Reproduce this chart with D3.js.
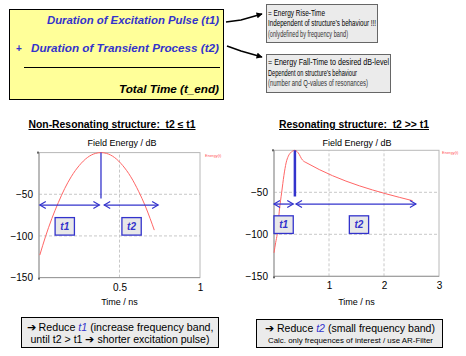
<!DOCTYPE html>
<html><head><meta charset="utf-8">
<script src="https://cdn.jsdelivr.net/npm/d3@7"></script>
<style>body{margin:0;background:#fff}svg{display:block}text{font-family:"Liberation Sans",Arial,sans-serif}</style>
</head><body>
<script>
// ---- data ----
const leftTime = [0.005,0.04,0.08,0.12,0.16,0.2,0.25,0.3,0.35,0.385,0.42,0.47,0.52,0.57,0.62,0.66,0.69,0.716];
const leftEnergy = [-123,-101,-79,-60,-43,-29,-15.5,-6,-1,0,-1,-6,-15.5,-29,-47,-64,-79,-93];
const rightTime = [0,0.03,0.06,0.1,0.14,0.18,0.22,0.26,0.3,0.34,0.38,0.42,0.46,0.5,0.54,0.58,2.52];
const rightEnergy = [-122,-110,-99,-70,-50,-30,-15,-7,-3,-0.8,0,-1.5,-5,-10,-13,-14.5,-60];
const yTicks = [-50,-100,-150];
const leftXTicks = [0.5,1];
const rightXTicks = [1,2,3];
const leftMarks = {peak:0.385, lineEnd:-55, arrowY:-63, a1:[0.005,0.375], a2:[0.405,0.74], b1:[0.1,0.22], b2:[0.515,0.635]};
const rightMarks = {peak:0.38, lineEnd:-55, arrowY:-64, a1:[0,0.35], a2:[0.4,2.58], b1:[0,0.35], b2:[1.37,1.72]};

const W=466,H=356;
const svg=d3.select("body").append("svg").attr("width",W).attr("height",H);
const blue="#3333cc";

function txt(x,y,s,opt={}){
  const t=svg.append("text").attr("x",x).attr("y",y).text(s)
   .attr("font-size",opt.size||10).attr("fill",opt.fill||"#000")
   .attr("text-anchor",opt.anchor||"start");
  if(opt.bold) t.attr("font-weight","bold");
  if(opt.italic) t.attr("font-style","italic");
  if(opt.len) t.attr("textLength",opt.len).attr("lengthAdjust","spacingAndGlyphs");
  if(opt.under) t.attr("text-decoration","underline");
  return t;
}

// ---- top yellow box ----
svg.append("rect").attr("x",9.5).attr("y",9.5).attr("width",214).attr("height",90)
  .attr("fill","#ffff99").attr("stroke","#000").attr("stroke-width",1);
txt(219,24,"Duration of Excitation Pulse (t1)",{size:11.5,bold:true,italic:true,fill:blue,anchor:"end",len:172});
txt(16,52,"+",{size:10,bold:true,fill:blue});
txt(219,52,"Duration of Transient Process (t2)",{size:11.5,bold:true,italic:true,fill:blue,anchor:"end",len:188});
svg.append("line").attr("x1",24).attr("x2",220).attr("y1",67.5).attr("y2",67.5).attr("stroke","#000");
txt(219,93,"Total Time (t_end)",{size:11.5,bold:true,italic:true,anchor:"end",len:100});

// arrows
const defs=svg.append("defs");
defs.append("marker").attr("id","ah").attr("viewBox","0 0 10 10").attr("refX",9).attr("refY",5)
  .attr("markerWidth",8).attr("markerHeight",6).attr("orient","auto").attr("markerUnits","userSpaceOnUse")
  .append("path").attr("d","M0,0L10,5L0,10z").attr("fill","#000");
svg.append("path").attr("d","M226,22 L241,20 L262,14").attr("fill","none").attr("stroke","#000").attr("stroke-width",1.5).attr("marker-end","url(#ah)");
svg.append("path").attr("d","M227,46 L241,51 L262,57").attr("fill","none").attr("stroke","#000").attr("stroke-width",1.5).attr("marker-end","url(#ah)");

// gray info boxes
svg.append("rect").attr("x",266.5).attr("y",4.5).attr("width",111).attr("height",38).attr("fill","#ebebeb").attr("stroke","#666");
txt(268,15.5,"= Energy Rise-Time",{size:9.5,len:57});
txt(268,26,"Independent of structure\u2019s behaviour !!!",{size:9.5,len:108});
txt(268,36.5,"(onlydefined by frequency band)",{size:8.5,len:80,fill:"#333"});
svg.append("rect").attr("x",266.5).attr("y",54.5).attr("width",124).attr("height",38).attr("fill","#ebebeb").attr("stroke","#666");
txt(268,64.5,"= Energy Fall-Time to desired dB-level",{size:9.5,len:121});
txt(268,75.5,"Dependent on structure\u2019s behaviour",{size:9.5,len:89});
txt(268,86,"(number and Q-values of resonances)",{size:9,len:100,fill:"#333"});

// titles
txt(112,128,"Non-Resonating structure:\u00a0\u00a0t2 \u2264 t1",{size:10,bold:true,anchor:"middle",len:167,under:true});
txt(354,128,"Resonating structure:\u00a0\u00a0t2 >> t1",{size:10,bold:true,anchor:"middle",len:150,under:true});

function chart(xDom,xR,yR,times,energy,xTicks,m,thick,labelX,legendX){
  const x=d3.scaleLinear().domain(xDom).range(xR);
  const y=d3.scaleLinear().domain([-150,0]).range(yR);
  const g=svg.append("g");
  // grid
  g.selectAll(".gy").data(yTicks.filter(v=>v>-150)).join("line")
   .attr("x1",xR[0]).attr("x2",xR[1]).attr("y1",d=>y(d)).attr("y2",d=>y(d))
   .attr("stroke","#c8c8c8").attr("stroke-dasharray","3,2");
  g.selectAll(".gx").data(xTicks.filter(v=>v<xDom[1])).join("line")
   .attr("y1",yR[0]).attr("y2",yR[1]).attr("x1",d=>x(d)).attr("x2",d=>x(d))
   .attr("stroke","#c8c8c8").attr("stroke-dasharray","3,2");
  // frame
  g.append("rect").attr("x",xR[0]).attr("y",yR[1]).attr("width",xR[1]-xR[0]).attr("height",yR[0]-yR[1])
   .attr("fill","none").attr("stroke","#b8b8b8");
  g.append("line").attr("x1",xR[0]).attr("x2",xR[0]).attr("y1",yR[1]).attr("y2",yR[0]).attr("stroke","#999");
  g.append("line").attr("x1",xR[0]).attr("x2",xR[1]).attr("y1",yR[0]).attr("y2",yR[0]).attr("stroke","#999");
  // axes labels
  const ya=d3.axisLeft(y).tickValues(yTicks).tickSize(0).tickPadding(5);
  const yg=g.append("g").attr("transform",`translate(${xR[0]-1},0)`).call(ya);
  yg.select(".domain").remove();
  yg.selectAll("text").attr("font-size",10).attr("font-family","Liberation Sans, Arial").attr("fill","#000");
  const xa=d3.axisBottom(x).tickValues(xTicks).tickSize(0).tickPadding(6).tickFormat(d3.format(""));
  const xg=g.append("g").attr("transform",`translate(0,${yR[0]})`).call(xa);
  xg.select(".domain").remove();
  xg.selectAll("text").attr("font-size",10).attr("font-family","Liberation Sans, Arial").attr("fill","#000");
  // tiny corner dots
  g.append("rect").attr("x",xR[0]-1).attr("y",yR[0]).attr("width",2).attr("height",2).attr("fill","#666");
  g.append("rect").attr("x",xR[0]-2).attr("y",yR[1]-1).attr("width",2).attr("height",2).attr("fill","#666");
  // curve
  const line=d3.line().x((d,i)=>x(times[i])).y(d=>y(d)).curve(d3.curveMonotoneX);
  g.append("path").datum(energy).attr("d",line).attr("fill","none").attr("stroke","#ff6666").attr("stroke-width",1);
  // title label
  txt(labelX,145.5,"Field Energy / dB",{size:9,anchor:"middle"});
  // legend
  txt(legendX,yR[1]+4,"Energy(t)",{size:4,fill:"#ff5555"});
  // vertical marker
  g.append("line").attr("x1",x(m.peak)).attr("x2",x(m.peak)).attr("y1",y(0)).attr("y2",y(m.lineEnd))
   .attr("stroke",blue).attr("stroke-width",thick);
  // arrows
  const ay=y(m.arrowY);
  [m.a1,m.a2].forEach(a=>{
    const x1=x(a[0]),x2=x(a[1]);
    g.append("line").attr("x1",x1).attr("x2",x2).attr("y1",ay).attr("y2",ay).attr("stroke",blue).attr("stroke-width",1.3);
    g.append("path").attr("d",`M${x1+6},${ay-3.5}L${x1},${ay}L${x1+6},${ay+3.5}`).attr("fill","none").attr("stroke",blue).attr("stroke-width",1.2);
    g.append("path").attr("d",`M${x2-6},${ay-3.5}L${x2},${ay}L${x2-6},${ay+3.5}`).attr("fill","none").attr("stroke",blue).attr("stroke-width",1.2);
  });
  // boxes
  [[m.b1,"t1"],[m.b2,"t2"]].forEach(([b,s])=>{
    const bx=x(b[0]),bw=x(b[1])-x(b[0]);
    g.append("rect").attr("x",bx).attr("y",y(-78)).attr("width",bw).attr("height",y(-99)-y(-78))
     .attr("fill","#e8e8e8").attr("stroke",blue).attr("stroke-width",1.3);
    txt(bx+bw/2,(y(-78)+y(-99))/2+3.5,s,{size:10,bold:true,italic:true,fill:blue,anchor:"middle"});
  });
  txt((xR[0]+xR[1])/2,305,"Time / ns",{size:9,anchor:"middle"});
}
chart([0,1],[39,200],[277.6,152.6],leftTime,leftEnergy,leftXTicks,leftMarks,1.3,122,205);
chart([0,3],[274,439],[276.3,150.3],rightTime,rightEnergy,rightXTicks,rightMarks,2.5,357,442);

// bottom boxes
svg.append("rect").attr("x",21.5).attr("y",317.5).attr("width",197).attr("height",30).attr("fill","#ebebeb").attr("stroke","#000");
const l1=txt(120,331,"",{size:10.5,anchor:"middle",len:187});
l1.append("tspan").text("\u2794 Reduce ");
l1.append("tspan").text("t1").attr("fill",blue).attr("font-style","italic");
l1.append("tspan").text(" (increase frequency band,");
txt(120,342.5,"until t2 > t1 \u2794 shorter excitation pulse)",{size:10.5,anchor:"middle",len:179});
svg.append("rect").attr("x",256.5).attr("y",319.5).attr("width",186).attr("height",28).attr("fill","#ebebeb").attr("stroke","#000");
const r1=txt(350,332,"",{size:10.5,anchor:"middle",len:170});
r1.append("tspan").text("\u2794 Reduce ");
r1.append("tspan").text("t2").attr("fill",blue).attr("font-style","italic");
r1.append("tspan").text(" (small frequency band)");
txt(350.5,342.8,"Calc. only frequences of interest / use AR-Filter",{size:7.2,anchor:"middle",len:165});
</script>
</body></html>
